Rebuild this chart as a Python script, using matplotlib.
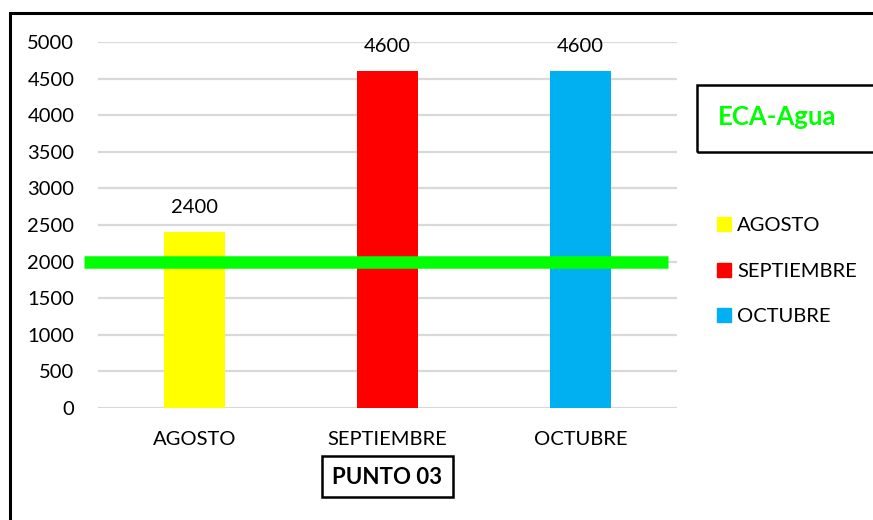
import matplotlib
matplotlib.use("Agg")
import matplotlib.pyplot as plt
from matplotlib.patches import Rectangle

plt.rcParams['font.family'] = ['Lato', 'DejaVu Sans']

# Data
months = ["AGOSTO", "SEPTIEMBRE", "OCTUBRE"]
values = [2400, 4600, 4600]
colors = ["#FFFF00", "#FF0000", "#00B0F0"]
eca_limit = 2000
y_ticks = [0, 500, 1000, 1500, 2000, 2500, 3000, 3500, 4000, 4500, 5000]

W, H = 873, 520
fig = plt.figure(figsize=(W / 100, H / 100), dpi=100)
fig.patch.set_facecolor("white")

def fx(px):
    return px / W

def fy(py):
    return 1 - py / H

FS = 14.5

ax = fig.add_axes([fx(98), fy(408), fx(677) - fx(98), fy(42) - fy(408)])
x = list(range(len(months)))
bars = ax.bar(x, values, width=0.316, color=colors, zorder=2)
ax.set_xlim(-0.5, len(months) - 0.5)
ax.set_ylim(0, 5000)
ax.set_yticks(y_ticks)
ax.set_xticks(x)
ax.set_xticklabels(months)
ax.tick_params(axis="both", length=0, labelsize=FS, colors="#000000")
ax.tick_params(axis="y", pad=17)
ax.tick_params(axis="x", pad=16.5)
ax.yaxis.grid(True, color="#D9D9D9", linewidth=1.6, zorder=0)
ax.set_axisbelow(True)
for s in ax.spines.values():
    s.set_visible(False)

# Value labels above bars
for b, v in zip(bars, values):
    ax.annotate(f"{v}", (b.get_x() + b.get_width() / 2, v), xytext=(0, 11.5),
                textcoords="offset points", ha="center", va="bottom", fontsize=FS)

# ECA limit line
ax.axhline(eca_limit, xmin=(84 - 98) / 579, xmax=(668 - 98) / 579,
           color="#00FF00", linewidth=9, clip_on=False, zorder=3,
           solid_capstyle="butt")

# Legend
handles = [Rectangle((0, 0), 1, 1, color=c) for c in colors]
fig.legend(handles, months, loc="upper left",
           bbox_to_anchor=(fx(717), fy(217)), frameon=False, fontsize=FS,
           handlelength=0.7, handleheight=0.7, handletextpad=0.3,
           labelspacing=1.42, borderpad=0, borderaxespad=0)

# Outer chart frame
fig.patches.append(Rectangle((fx(10), fy(560)), fx(900), fy(13) - fy(560),
                             transform=fig.transFigure, fill=False,
                             edgecolor="black", linewidth=2.2, clip_on=False))

# ECA-Agua box
fig.patches.append(Rectangle((fx(697), fy(152)), fx(200), fy(85) - fy(152),
                             transform=fig.transFigure, fill=False,
                             edgecolor="black", linewidth=1.8, clip_on=False))
fig.text(fx(718), fy(117), "ECA-Agua", color="#00FF00", fontsize=18.5,
         fontweight="bold", ha="left", va="center")

# PUNTO 03 box
fig.patches.append(Rectangle((fx(322), fy(497)), fx(453) - fx(322), fy(456) - fy(497),
                             transform=fig.transFigure, fill=False,
                             edgecolor="black", linewidth=1.8))
fig.text(fx(387.5), fy(477), "PUNTO 03", fontsize=16, fontweight="bold",
         ha="center", va="center")

fig.savefig("out.png", dpi=100)
